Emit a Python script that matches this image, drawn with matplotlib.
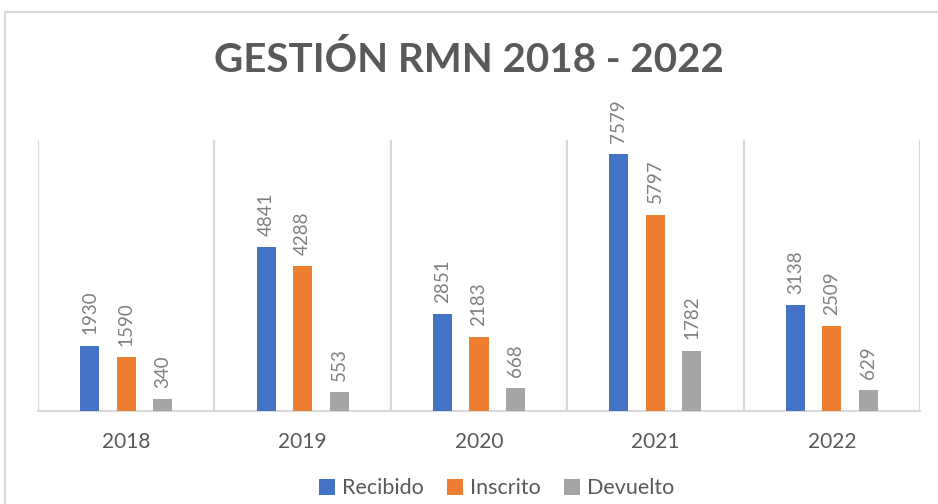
import matplotlib.pyplot as plt
import matplotlib.patches as mpatches
import numpy as np

plt.rcParams['font.family'] = ['Lato', 'DejaVu Sans']

years = ['2018', '2019', '2020', '2021', '2022']
recibido = [1930, 4841, 2851, 7579, 3138]
inscrito = [1590, 4288, 2183, 5797, 2509]
devuelto = [340, 553, 668, 1782, 629]

series = [('Recibido', recibido, '#4472C4'),
          ('Inscrito', inscrito, '#ED7D31'),
          ('Devuelto', devuelto, '#A5A5A5')]

fig = plt.figure(figsize=(9.38, 5.04), dpi=100)
ax = fig.add_axes([0.0405, 0.1845, 0.9403, 0.5377])

# outer chart border
fig.patches.append(mpatches.Rectangle((5 / 938, -0.05), 1.0, 1 - 12 / 504 + 0.05,
                                      transform=fig.transFigure, fill=False,
                                      edgecolor='#D9D9D9', linewidth=1.5))

x = np.arange(len(years))
width = 0.108
step = 0.207
for i, (name, vals, color) in enumerate(series):
    pos = x + (i - 1) * step
    ax.bar(pos, vals, width, color=color, label=name, zorder=3)
    for px, v in zip(pos, vals):
        ax.text(px, v + 330, str(v), rotation=90, ha='center', va='bottom',
                fontsize=13.5, color='#808080')

ax.set_xlim(-0.5, len(years) - 0.5)
ax.set_ylim(0, 8000)
ax.set_xticks(x)
ax.set_xticklabels(years, fontsize=15, color='#595959')
ax.set_xticks(np.arange(-0.5, len(years)), minor=True)
ax.grid(which='minor', axis='x', color='#D9D9D9', linewidth=1.5)
ax.tick_params(axis='x', which='both', length=0, pad=15)
ax.set_yticks([])
for s in ['left', 'right', 'top']:
    ax.spines[s].set_visible(False)
ax.spines['bottom'].set_color('#D9D9D9')
ax.spines['bottom'].set_linewidth(1.5)

fig.text(0.5, 0.88, 'GESTIÓN RMN 2018 - 2022', ha='center', va='center',
         fontsize=29, fontweight='bold', color='#595959')

ax.legend(loc='center', bbox_to_anchor=(0.52, -0.285), ncol=3, frameon=False,
          fontsize=15.5, handlelength=0.75, handleheight=0.75, handletextpad=0.3,
          columnspacing=1.1, labelcolor='#595959')

fig.savefig('out.png', dpi=100)
